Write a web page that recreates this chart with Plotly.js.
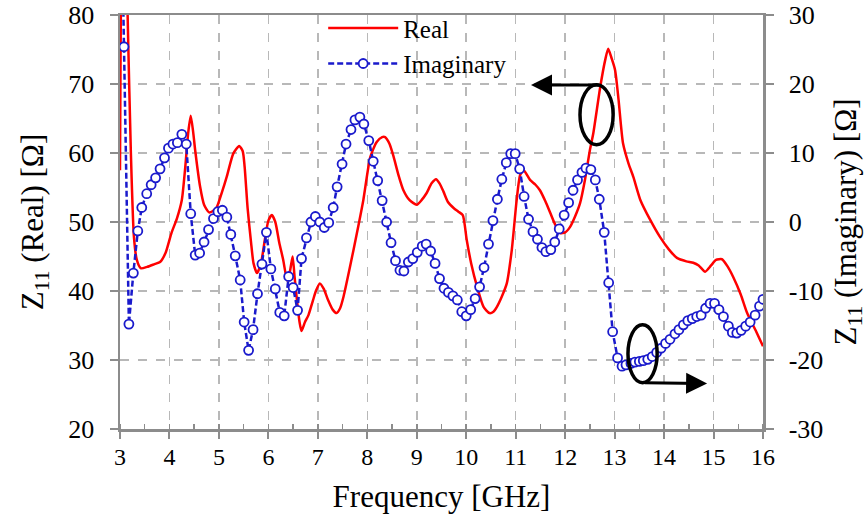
<!DOCTYPE html>
<html>
<head>
<meta charset="utf-8">
<script src="https://cdn.plot.ly/plotly-3.0.1.min.js"></script>
<style>html,body{margin:0;padding:0;background:#fff}#chart{width:868px;height:524px}</style>
</head>
<body>
<div id="chart"></div>
<script>
// Real part Z11 [Ohm] (left axis)
const realFreq = [3.00,3.03,3.08,3.13,3.16,3.22,3.28,3.34,3.42,3.55,3.70,3.81,3.92,4.04,4.15,4.25,4.32,4.38,4.43,4.48,4.52,4.62,4.70,4.80,4.90,4.96,5.06,5.16,5.29,5.41,5.48,5.52,5.58,5.65,5.70,5.77,5.85,5.93,6.00,6.07,6.14,6.22,6.30,6.38,6.44,6.49,6.53,6.57,6.63,6.67,6.74,6.81,6.90,6.96,7.04,7.12,7.20,7.30,7.38,7.45,7.52,7.65,7.79,7.92,8.06,8.19,8.30,8.36,8.45,8.53,8.63,8.73,8.85,9.00,9.10,9.20,9.30,9.39,9.46,9.54,9.63,9.75,9.84,9.93,10.01,10.10,10.22,10.35,10.47,10.55,10.62,10.72,10.82,10.92,11.02,11.09,11.16,11.29,11.40,11.49,11.60,11.70,11.80,11.90,12.00,12.10,12.20,12.30,12.40,12.50,12.57,12.71,12.81,12.87,12.94,13.01,13.08,13.17,13.28,13.38,13.52,13.72,13.92,14.10,14.26,14.45,14.59,14.70,14.83,14.95,15.05,15.17,15.28,15.40,15.55,15.68,15.85,16.00];
const realVal = [57.5,88,97,88,78,60,48,44.5,43.3,43.5,43.9,44.2,45.5,48.4,50.5,53.2,58,63,65.4,63,60.4,55.1,52.5,51.4,51.7,52.2,54.3,56.6,59.9,61.0,60.3,58,52,47,44,42.6,44,47.5,50.2,51,50,47,44.5,41.5,43,45,42,39.2,35.5,34.2,35.5,36.5,38.6,40,41.1,40.3,38.8,37.3,36.8,37.5,39.2,43.5,48.4,53.2,59.4,61.6,62.3,62.3,61.3,59.5,56.8,54.6,53.2,52.5,53.2,54.2,55.6,56.2,55.6,54.4,52.9,52.0,51.5,51.0,47.4,44,40.6,37.7,36.8,37,37.7,39.2,41.1,45.9,53.2,56.8,57.5,56.1,55.4,54.6,53,51.3,49.6,48.4,48.5,49.3,50.8,52.7,56.1,60.4,62.9,69.6,73.5,75.1,73.7,72,67.7,61.4,58.5,56.5,53.2,50.3,47.8,46.0,44.8,44.3,44.1,43.7,42.8,43.7,44.5,44.6,43.6,42.0,39.5,36.8,34.3,32];

// Imaginary part Z11 [Ohm] (right axis)
const imagFreq = [3.00,3.08,3.18,3.27,3.36,3.44,3.54,3.63,3.72,3.81,3.90,3.98,4.07,4.16,4.25,4.34,4.43,4.52,4.61,4.70,4.79,4.89,4.98,5.07,5.16,5.24,5.33,5.43,5.51,5.60,5.69,5.78,5.87,5.96,6.05,6.14,6.23,6.32,6.41,6.50,6.59,6.67,6.77,6.86,6.95,7.04,7.13,7.22,7.31,7.39,7.49,7.57,7.67,7.75,7.85,7.93,8.03,8.12,8.21,8.30,8.39,8.48,8.57,8.66,8.74,8.83,8.92,9.01,9.11,9.19,9.28,9.37,9.46,9.55,9.64,9.73,9.82,9.91,10.00,10.09,10.18,10.27,10.36,10.45,10.54,10.63,10.72,10.81,10.90,10.99,11.08,11.17,11.26,11.35,11.44,11.53,11.61,11.71,11.79,11.88,11.98,12.07,12.16,12.25,12.34,12.42,12.52,12.61,12.69,12.79,12.88,12.96,13.06,13.15,13.23,13.33,13.41,13.50,13.58,13.67,13.76,13.85,13.94,14.03,14.12,14.22,14.30,14.39,14.48,14.57,14.66,14.75,14.84,14.93,15.02,15.11,15.20,15.30,15.38,15.47,15.56,15.65,15.74,15.84,15.93,16.00];
const imagVal = [58,25.4,-14.8,-7.4,-1.3,2.1,4.1,5.4,6.4,7.7,9.3,10.7,11.3,11.5,12.7,11.3,1.2,-4.8,-4.5,-2.9,-1.1,0.5,1.5,1.7,0.7,-1.8,-4.9,-8.4,-14.5,-18.6,-15.6,-10.4,-6.1,-1.5,-6.8,-9.7,-13.1,-13.6,-7.9,-9.5,-12.8,-5.3,-2.3,0.0,0.8,0.0,-0.8,-0.1,2.1,5.1,8.4,11.3,13.4,14.8,15.2,14.2,11.8,8.8,6.0,3.1,0.0,-3.0,-5.6,-7.0,-7.1,-5.8,-5.3,-4.4,-3.5,-3.2,-4.2,-6.0,-8.2,-9.6,-10.2,-10.7,-11.3,-13.0,-13.6,-12.7,-11.1,-9.4,-6.6,-3.2,0.2,3.3,6.2,8.6,9.9,9.9,7.7,3.7,0.4,-1.4,-2.5,-3.7,-4.3,-4.0,-2.9,-1.0,1.0,2.8,4.6,6.1,7.2,7.8,7.6,6.1,3.3,-1.5,-8.8,-15.9,-19.7,-20.9,-20.7,-20.5,-20.3,-20.2,-20.1,-19.9,-19.5,-18.9,-18.3,-17.6,-17.0,-16.2,-15.6,-14.9,-14.3,-14.0,-13.7,-13.5,-12.5,-11.8,-11.8,-12.7,-13.7,-15.1,-16.0,-16.1,-15.7,-15.1,-14.5,-13.5,-12.2,-11.2];

const xTicks = [3,4,5,6,7,8,9,10,11,12,13,14,15,16];
const yLeftTicks = [20,30,40,50,60,70,80];
const yRightTicks = [-30,-20,-10,0,10,20,30];
const yRightLabels = ['-30','-20','-10','0','10','20','30'];

const FONT = 'Liberation Serif';
const AXC = '#8c8c8c';
const GRIDC = '#b8b8b8';

const traces = [
  {x: realFreq, y: realVal, name: 'Real', type: 'scatter', mode: 'lines',
   line: {color: '#ff0000', width: 2.5, shape: 'spline', smoothing: 0.6}, yaxis: 'y'},
  {x: imagFreq, y: imagVal, name: 'Imaginary', type: 'scatter', mode: 'lines+markers',
   line: {color: '#1a1acc', width: 2.5, dash: '6px,3px'},
   marker: {symbol: 'circle', size: 9, color: '#ffffff', line: {color: '#1a1acc', width: 1.8}},
   yaxis: 'y2'}
];

const layout = {
  width: 868, height: 524,
  margin: {l: 120, r: 105, t: 15, b: 95, autoexpand: false},
  paper_bgcolor: '#ffffff', plot_bgcolor: '#ffffff',
  font: {family: FONT, color: '#000', size: 24},
  showlegend: true,
  legend: {x: 0.316, y: 0.99, xref: 'paper', yref: 'container', xanchor: 'left', yanchor: 'top',
           bgcolor: 'rgba(0,0,0,0)',
           font: {family: FONT, size: 25, color: '#000'}, itemwidth: 70, tracegroupgap: 0},
  xaxis: {range: [3, 16], tickvals: xTicks, ticks: 'outside', ticklen: 7, tickwidth: 2, tickcolor: AXC,
          showline: true, linecolor: AXC, linewidth: 2.5, mirror: true,
          showgrid: true, gridcolor: GRIDC, griddash: 'dash', gridwidth: 1.5,
          minor: {dtick: 0.5, ticks: 'inside', ticklen: 5, tickwidth: 1.5, tickcolor: AXC, showgrid: false},
          zeroline: false, tickfont: {family: FONT, size: 24}, ticklabelstandoff: -2, automargin: false,
          title: {text: 'Frequency [GHz]', font: {family: FONT, size: 31}, standoff: 16}},
  yaxis: {range: [20, 80], tickvals: yLeftTicks, ticks: 'outside', ticklen: 8, tickwidth: 2, tickcolor: AXC,
          showline: true, linecolor: AXC, linewidth: 2.5, automargin: false,
          showgrid: true, gridcolor: GRIDC, griddash: 'dash', gridwidth: 1.5, zeroline: false,
          tickfont: {family: FONT, size: 26}, ticklabelstandoff: 10,
          title: {text: 'Z<sub>11</sub> (Real) [Ω]', font: {family: FONT, size: 31}, standoff: 16}},
  yaxis2: {range: [-30, 30], overlaying: 'y', side: 'right', tickvals: yRightTicks, ticktext: yRightLabels,
           ticks: 'outside', ticklen: 8, tickwidth: 2, tickcolor: AXC, automargin: false,
           showline: true, linecolor: AXC, linewidth: 2.5, showgrid: false, zeroline: false,
           tickfont: {family: FONT, size: 26}, ticklabelstandoff: 10,
           title: {text: 'Z<sub>11</sub> (Imaginary) [Ω]', font: {family: FONT, size: 31}, standoff: 12}},
  shapes: [
    {type: 'circle', xref: 'x', yref: 'y', x0: 12.30, x1: 12.97, y0: 61.2, y1: 69.9,
     line: {color: '#000', width: 3.5}},
    {type: 'circle', xref: 'x', yref: 'y', x0: 13.27, x1: 13.86, y0: 26.7, y1: 35.1,
     line: {color: '#000', width: 3.5}}
  ],
  annotations: [
    {x: 11.31, y: 69.86, xref: 'x', yref: 'y', ax: 12.71, ay: 69.86, axref: 'x', ayref: 'y',
     text: '', showarrow: true, arrowhead: 2, arrowsize: 1.4, arrowwidth: 3, arrowcolor: '#000'},
    {x: 14.87, y: 26.6, xref: 'x', yref: 'y', ax: 13.58, ay: 26.7, axref: 'x', ayref: 'y',
     text: '', showarrow: true, arrowhead: 2, arrowsize: 1.4, arrowwidth: 3, arrowcolor: '#000'}
  ]
};

Plotly.newPlot('chart', traces, layout, {displayModeBar: false, staticPlot: true});
</script>
</body>
</html>
